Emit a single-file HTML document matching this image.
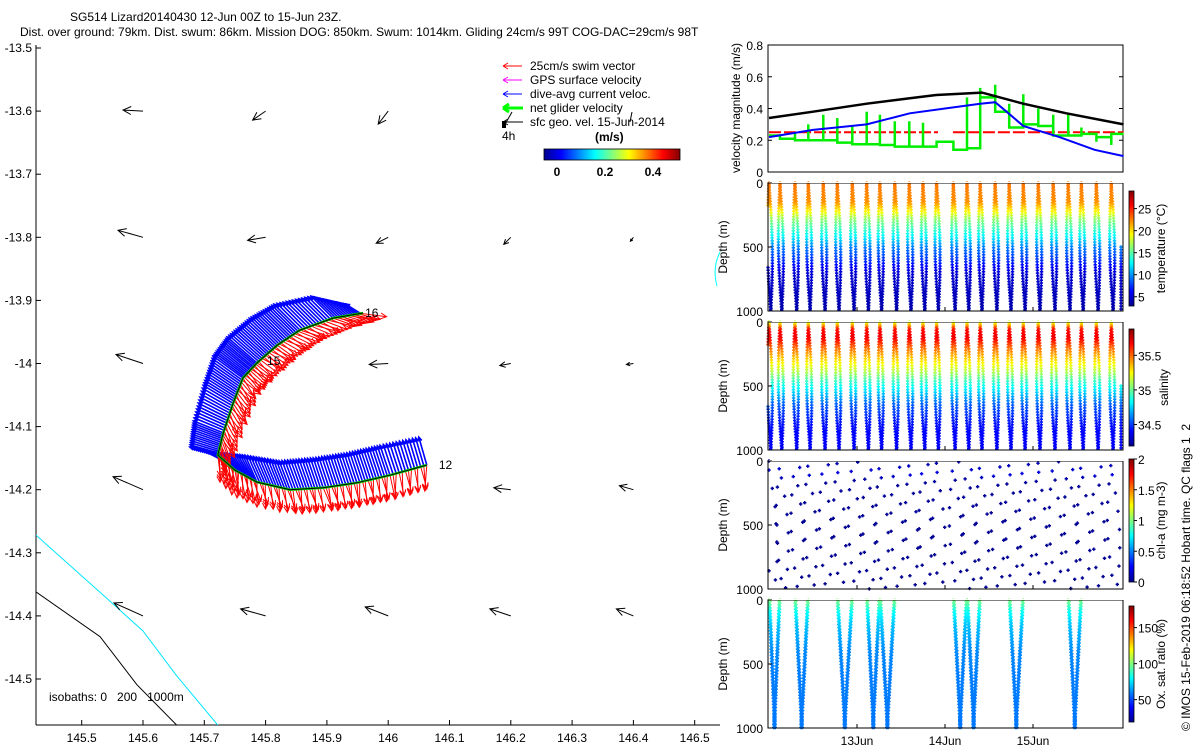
<!DOCTYPE html>
<html><head><meta charset="utf-8">
<style>
html,body{margin:0;padding:0;background:#fff;}
svg{display:block;font-family:"Liberation Sans",sans-serif;}
text{font-size:12px;fill:#000;}
</style></head>
<body>
<svg id="fig" width="1200" height="750" viewBox="0 0 1200 750" xmlns="http://www.w3.org/2000/svg">
<defs>
<linearGradient id="jetv" x1="0" y1="1" x2="0" y2="0">
<stop offset="0" stop-color="#00008f"/><stop offset="0.125" stop-color="#0000ff"/><stop offset="0.375" stop-color="#00ffff"/><stop offset="0.625" stop-color="#ffff00"/><stop offset="0.875" stop-color="#ff0000"/><stop offset="1" stop-color="#800000"/>
</linearGradient>
<linearGradient id="jeth" x1="0" y1="0" x2="1" y2="0">
<stop offset="0" stop-color="#00008f"/><stop offset="0.125" stop-color="#0000ff"/><stop offset="0.375" stop-color="#00ffff"/><stop offset="0.625" stop-color="#ffff00"/><stop offset="0.875" stop-color="#ff0000"/><stop offset="1" stop-color="#800000"/>
</linearGradient>
<clipPath id="mapclip"><rect x="36" y="45" width="684" height="680"/></clipPath>
</defs>
<text x="70" y="21">SG514 Lizard20140430 12-Jun 00Z to 15-Jun 23Z.</text>
<text x="20" y="36">Dist. over ground: 79km. Dist. swum: 86km. Mission DOG: 850km. Swum: 1014km. Gliding 24cm/s 99T COG-DAC=29cm/s 98T</text>
<g id="map"></g>
<g id="legend">
<line x1="503" y1="66" x2="522" y2="66" stroke="#f00"/><path d="M503 66 l5 -3 M503 66 l5 3" stroke="#f00" fill="none"/>
<text x="530" y="70">25cm/s swim vector</text>
<line x1="503" y1="80" x2="522" y2="80" stroke="#f0f"/><path d="M503 80 l5 -3 M503 80 l5 3" stroke="#f0f" fill="none"/>
<text x="530" y="84">GPS surface velocity</text>
<line x1="503" y1="94" x2="522" y2="94" stroke="#00f"/><path d="M503 94 l5 -3 M503 94 l5 3" stroke="#00f" fill="none"/>
<text x="530" y="98">dive-avg current veloc.</text>
<line x1="503" y1="108" x2="523" y2="108" stroke="#0f0" stroke-width="3"/><path d="M503 108 l6 -4 M503 108 l6 4" stroke="#0f0" stroke-width="3" fill="none"/>
<text x="530" y="112">net glider velocity</text>
<line x1="503" y1="122" x2="523" y2="122" stroke="#000"/><path d="M503 122 l5 -3 M503 122 l5 3" stroke="#000" fill="none"/>
<path d="M504 126 l8 -14 M632 112 l-2 10" stroke="#000" fill="none"/><rect x="502" y="121" width="4" height="7" fill="#000"/>
<text x="530" y="126">sfc geo. vel. 15-Jun-2014</text>
<text x="502" y="140">4h</text>
<text x="595" y="141" font-weight="bold">(m/s)</text>
<rect x="544" y="149" width="136" height="11" fill="url(#jeth)" stroke="#000" stroke-width="0.8"/>
<text x="557" y="176" font-weight="bold" text-anchor="middle">0</text>
<text x="605" y="176" font-weight="bold" text-anchor="middle">0.2</text>
<text x="653" y="176" font-weight="bold" text-anchor="middle">0.4</text>
</g>
<g id="vel"></g>
<g id="prof"></g>
<path d="M720 252 q-8 16 -3 34" stroke="#0ff" fill="none"/>
<text transform="translate(1190,731) rotate(-90)" style="white-space:pre">© IMOS 15-Feb-2019 06:18:52 Hobart time. QC flags 1  2</text>
</svg>
<script>
// ---------- map data ----------
const lonTicks=[145.5,145.6,145.7,145.8,145.9,146,146.1,146.2,146.3,146.4,146.5];
const latTicks=[-13.5,-13.6,-13.7,-13.8,-13.9,-14,-14.1,-14.2,-14.3,-14.4,-14.5];
const gridLon=[145.6,145.8,146.0,146.2,146.4];
const gridLat=[-13.6,-13.8,-14.0,-14.2,-14.4,-14.6];
const geoU=[[-0.20,-0.13,-0.10,0,0],[-0.25,-0.18,-0.12,-0.07,-0.03],[-0.27,0,-0.19,-0.11,-0.07],[-0.30,0,0,-0.17,-0.14],[-0.29,-0.25,-0.23,-0.21,-0.17],[-0.25,-0.25,0,0,0]];
const geoV=[[0.01,-0.09,-0.13,0,0],[0.07,-0.03,-0.06,-0.07,-0.04],[0.09,0,-0.01,-0.02,-0.01],[0.13,0,0,0.02,0.04],[0.13,0.07,0.09,0.07,0.07],[0.13,0.12,0,0,0]];
const trackLon=[146.063,146.003,145.949,145.894,145.840,145.786,145.750,145.722,145.731,145.747,145.763,145.786,145.819,145.856,145.910,145.959];
const trackLat=[-14.161,-14.177,-14.189,-14.197,-14.200,-14.188,-14.169,-14.145,-14.110,-14.063,-14.023,-13.999,-13.971,-13.947,-13.928,-13.920];
const dacU=[-0.08,-0.10,-0.10,-0.10,-0.11,-0.12,-0.2,-0.28,-0.30,-0.30,-0.30,-0.30,-0.28,-0.26,-0.22,-0.14];
const dacV=[0.28,0.30,0.30,0.30,0.29,0.27,0.18,0.08,0.12,0.18,0.22,0.26,0.27,0.26,0.22,0.08];
const swimU=[0.02,0.03,0.04,0.05,0.05,0.04,0.02,0.05,0.10,0.12,0.15,0.18,0.20,0.22,0.23,0.22];
const swimV=[-0.24,-0.24,-0.23,-0.23,-0.23,-0.23,-0.24,-0.24,-0.20,-0.18,-0.16,-0.14,-0.12,-0.10,-0.08,-0.05];
const isoCyanLon=[145.4254,145.535,145.6,145.655,145.722];
const isoCyanLat=[-14.272,-14.367,-14.424,-14.495,-14.573];
const isoBlackLon=[145.4254,145.530,145.590,145.655];
const isoBlackLat=[-14.362,-14.433,-14.509,-14.573];
// ---------- velocity panel data ----------
const velTicks=[0,0.2,0.4,0.6,0.8];
const blackT=[0,0.5,1.11,1.6,1.9,2.42,2.89,3.38,4.03];
const blackV=[0.34,0.38,0.43,0.465,0.485,0.5,0.43,0.37,0.3];
const blueT=[0,0.5,1.11,1.6,2.0,2.4,2.57,2.7,2.89,3.3,3.7,4.03];
const blueV=[0.22,0.265,0.3,0.37,0.4,0.43,0.44,0.38,0.29,0.22,0.14,0.1];
const redSegT=[[0,1.92],[2.09,4.03]];
const redV=0.25;
const diveT=[0.0,0.125,0.295,0.447,0.617,0.776,0.947,1.11,1.26,1.43,1.594,1.75,1.905,2.095,2.25,2.40,2.57,2.73,2.89,3.06,3.23,3.40,3.55,3.72,3.89];
const greenSpike=[0.23,0.21,0.25,0.30,0.36,0.34,0.29,0.38,0.36,0.32,0.32,0.31,0.16,0.19,0.47,0.53,0.55,0.43,0.49,0.40,0.36,0.37,0.28,0.19,0.17];
const greenPlateau=[0.23,0.21,0.20,0.20,0.20,0.185,0.175,0.175,0.17,0.16,0.16,0.16,0.19,0.14,0.15,0.47,0.38,0.28,0.30,0.29,0.23,0.23,0.24,0.22,0.24];
const timeTickLabels=["13Jun","14Jun","15Jun"];
const timeTicks=[1,2,3];
// ---------- profile data ----------
const depthTicks=[0,500,1000];
const tempDepth=[0,150,220,280,350,420,500,600,700,1000];
const tempVal=[22.8,22,19.5,16.5,14.5,12.5,9.5,7.5,5,4];
const tempTicks=[5,10,15,20,25];
const salDepth=[0,60,120,200,300,400,450,550,650,800,1000];
const salVal=[35.15,35.65,35.7,35.5,35.3,35.1,34.95,34.75,34.55,34.42,34.38];
const salTicks=[34.5,35,35.5];
const chlDepth=[0,100,150,1000];
const chlVal=[0.06,0.2,0.05,0.03];
const chlTicks=[0,0.5,1,1.5,2];
const oxyDepth=[0,100,200,400,600,1000];
const oxyVal=[100,80,70,61,59,58];
const oxyTicks=[50,100,150];
const oxyPairs=[[0,1],[2,3],[5,6],[7,8],[8,9],[13,14],[14,15],[17,18],[21,22]];

const NS="http://www.w3.org/2000/svg";
function mk(tag,attrs,parent){const e=document.createElementNS(NS,tag);for(const k in attrs)e.setAttribute(k,attrs[k]);parent.appendChild(e);return e;}
function jet(v){v=Math.max(0,Math.min(1,v));const c=x=>Math.round(255*Math.max(0,Math.min(1,x)));return `rgb(${c(1.5-Math.abs(4*v-3))},${c(1.5-Math.abs(4*v-2))},${c(1.5-Math.abs(4*v-1))})`;}
function interp(xs,ys,x){if(x<=xs[0])return ys[0];for(let i=1;i<xs.length;i++){if(x<=xs[i]){const f=(x-xs[i-1])/(xs[i]-xs[i-1]);return ys[i-1]+f*(ys[i]-ys[i-1]);}}return ys[ys.length-1];}

// ---------- map ----------
const mapX=lon=>81.7+(lon-145.5)*613;
const mapY=lat=>48+(-13.5-lat)*631;
const VS=100;
const map=document.getElementById('map');
let e;
e=mk('line',{x1:36,y1:45,x2:36,y2:725,stroke:'#000'},map);


e=mk('line',{x1:36,y1:725,x2:720,y2:725,stroke:'#000'},map);


lonTicks.forEach(l=>{const x=mapX(l);mk('line',{x1:x,y1:725,x2:x,y2:720,stroke:'#000'},map);
 e=mk('text',{x:x,y:742,'text-anchor':'middle'},map);e.textContent=String(l);
 
 });
latTicks.forEach(l=>{const y=mapY(l);mk('line',{x1:36,y1:y,x2:41,y2:y,stroke:'#000'},map);
 e=mk('text',{x:32,y:y+4,'text-anchor':'end'},map);e.textContent=String(l);
 
 });
const mg=mk('g',{'clip-path':'url(#mapclip)'},map);
function poly(lons,lats,col,name){const p=lons.map((l,i)=>mapX(l).toFixed(1)+','+mapY(lats[i]).toFixed(1)).join(' ');
 const el=mk('polyline',{points:p,fill:'none',stroke:col,'stroke-width':1},mg);
 
 }
poly(isoCyanLon,isoCyanLat,'#00e5ff','isobath-200m');
poly(isoBlackLon,isoBlackLat,'#000','isobath-1000m');
function arrow(g,x,y,u,v,col,w,hs){const x2=x+u*VS,y2=y-v*VS;const L=Math.hypot(x2-x,y2-y);if(L<0.5)return null;
 const ux=(x2-x)/L,uy=(y2-y)/L;const h=Math.min(hs,L*0.5);
 const d=`M${x.toFixed(1)} ${y.toFixed(1)}L${x2.toFixed(1)} ${y2.toFixed(1)}M${(x2-ux*h-uy*h*0.5).toFixed(1)} ${(y2-uy*h+ux*h*0.5).toFixed(1)}L${x2.toFixed(1)} ${y2.toFixed(1)}L${(x2-ux*h+uy*h*0.5).toFixed(1)} ${(y2-uy*h-ux*h*0.5).toFixed(1)}`;
 return mk('path',{d:d,stroke:col,'stroke-width':w,fill:'none'},g);}
gridLat.forEach((la,r)=>gridLon.forEach((lo,c)=>{const a=arrow(mg,mapX(lo),mapY(la),geoU[r][c],geoV[r][c],'#000',1,8);
 if(a){a.setAttribute('stroke-width','1');
 
 }}));
const tg=mk('g',{},mg);


const SUB=12;
for(let i=0;i<trackLon.length-1;i++){for(let s=0;s<SUB;s++){const f=s/SUB;
 const x=mapX(trackLon[i]+f*(trackLon[i+1]-trackLon[i])),y=mapY(trackLat[i]+f*(trackLat[i+1]-trackLat[i]));
 const du=dacU[i]+f*(dacU[i+1]-dacU[i]),dv=dacV[i]+f*(dacV[i+1]-dacV[i]);
 const wob=((s*7+i*3)%5-2)*0.02;
 const su=swimU[i]+f*(swimU[i+1]-swimU[i])+wob,sv=swimV[i]+f*(swimV[i+1]-swimV[i])+wob*0.5;
 const b=arrow(tg,x,y,du,dv,'#0000ff',1.6,4);
 if(b){
 }
 const rr=arrow(tg,x,y,su,sv,'#ff0000',1,6);
 if(rr){
 }}}
poly(trackLon,trackLat,'#00dd00','glider-track-green');
const trk=mg.lastChild;trk.setAttribute('stroke-width','2.5');
poly(trackLon,trackLat,'#000','glider-track');
[[0,'12',12,4],[15,'16',2,4],[11,'15',10,2]].forEach(([i,t,dx,dy])=>{e=mk('text',{x:mapX(trackLon[i])+dx,y:mapY(trackLat[i])+dy},mg);e.textContent=t;
 
 });
e=mk('text',{x:49,y:701,style:'white-space:pre'},map);e.textContent='isobaths: 0   200   1000m';



// ---------- velocity panel ----------
const PX0=768,PX1=1123;
const tX=t=>769+88*t;
const vel=document.getElementById('vel');
const vY=v=>172-v*158.75;
e=mk('rect',{x:PX0,y:45,width:PX1-PX0,height:127,fill:'none',stroke:'#000'},vel);


velTicks.forEach(v=>{const y=vY(v);mk('line',{x1:PX0,y1:y,x2:PX0+4,y2:y,stroke:'#000'},vel);mk('line',{x1:PX1,y1:y,x2:PX1-4,y2:y,stroke:'#000'},vel);
 e=mk('text',{x:763,y:y+5,'text-anchor':'end'},vel);e.textContent=String(v);
 
 });
e=mk('text',{transform:'translate(740,108) rotate(-90)','text-anchor':'middle'},vel);e.textContent='velocity magnitude (m/s)';


function vline(ts,vs,col,w,name){const el=mk('polyline',{points:ts.map((t,i)=>tX(t).toFixed(1)+','+vY(vs[i]).toFixed(1)).join(' '),fill:'none',stroke:col,'stroke-width':w},vel);
 
 return el;}
redSegT.forEach(sg=>{const el=vline(sg,[redV,redV],'#ff0000',2,'swim-speed-line');el.setAttribute('stroke-dasharray','12 3');});
let gp=[[0,greenPlateau[0]]];
for(let i=0;i<diveT.length;i++){const prev=i?greenPlateau[i-1]:greenPlateau[0];gp.push([diveT[i],prev],[diveT[i],greenSpike[i]],[diveT[i],greenPlateau[i]]);}
gp.push([4.03,greenPlateau[greenPlateau.length-1]]);
vline(gp.map(p=>p[0]),gp.map(p=>p[1]),'#00ee00',2.5,'net-glider-speed-line');
vline(blackT,blackV,'#000',2.5,'surface-current-line');
vline(blueT,blueV,'#0000ff',2,'dive-avg-current-line');

// ---------- profiles ----------
const prof=document.getElementById('prof');
const panels=[
 {name:'temperature',top:183,bot:311,d:tempDepth,v:tempVal,cmin:2.9,cmax:29,cbT:191,cbB:306,ticks:tempTicks,label:'temperature (°C)',lx:1165},
 {name:'salinity',top:322,bot:450,d:salDepth,v:salVal,cmin:34.19,cmax:35.88,cbT:329,cbB:446,ticks:salTicks,label:'salinity',lx:1168},
 {name:'chlorophyll',top:461,bot:589,d:chlDepth,v:chlVal,cmin:0,cmax:2,cbT:459,cbB:582,ticks:chlTicks,label:'chl-a (mg m-3)',lx:1165},
 {name:'oxygen',top:600,bot:728,d:oxyDepth,v:oxyVal,cmin:19,cmax:180,cbT:606,cbB:722,ticks:oxyTicks,label:'Ox. sat. ratio (%)',lx:1165}
];
panels.forEach((P,pi)=>{
 const g=mk('g',{},prof);
 
 
 const dY=d=>P.top+(d/1000)*(P.bot-P.top);
 const pts=mk('g',{},g);
 
 
 function dot(t,d){const x=tX(t);if(x<PX0||x>PX1||d>1000)return;const c=jet((interp(P.d,P.v,d)-P.cmin)/(P.cmax-P.cmin));
  mk('path',{d:`M${(x-1.7).toFixed(1)} ${dY(d).toFixed(1)}h3.4M${x.toFixed(1)} ${(dY(d)-1.7).toFixed(1)}v3.4`,stroke:c,'stroke-width':1.5},pts);}
 if(pi===3){oxyPairs.forEach(([a,b])=>{const ta=diveT[a],tb=diveT[b],tm=(ta+tb)/2;
  for(let d=0;d<=1000;d+=24){dot(ta+(tm-ta)*d/1000,d);dot(tb-(tb-tm)*d/1000,d);
   dot(ta+(tm-ta)*d/1000+0.01,d+12);dot(tb-(tb-tm)*d/1000-0.01,d+12);}});}
 else if(pi===2){diveT.forEach((t,i)=>{for(let k=0;k<7;k++){const d=((k*143+i*61)%1000);const s=Math.sin(Math.PI*d/1000);
  dot(t+0.03*d/1000-0.06*s,d);dot(t+0.05*d/1000+0.07*s,(d+71)%1000);}});}
 else{diveT.forEach((t,i)=>{for(let d=0;d<=1000;d+=22){const s=Math.sin(Math.PI*d/1000);
  dot(t+0.02*d/1000-0.028*s,d);dot(t+0.02*d/1000+0.028*s,d+11);}});
  for(let d=500;d<=1000;d+=22){dot(4.0,d);}}
 e=mk('rect',{x:PX0,y:P.top,width:PX1-PX0,height:P.bot-P.top,fill:'none',stroke:'#000'},g);
 
 
 mk('rect',{x:PX0+1,y:P.top-1,width:PX1-PX0,height:1,fill:'#fff'},g);
 depthTicks.forEach(d=>{const y=dY(d);mk('line',{x1:PX0,y1:y,x2:PX0+4,y2:y,stroke:'#000'},g);
  e=mk('text',{x:763,y:y+5,'text-anchor':'end'},g);e.textContent=String(d);
  
  });
 timeTicks.forEach(t=>{mk('line',{x1:tX(t),y1:P.bot,x2:tX(t),y2:P.bot-4,stroke:'#000'},g);});
 e=mk('text',{transform:`translate(727,${(P.top+P.bot)/2}) rotate(-90)`,'text-anchor':'middle'},g);e.textContent='Depth (m)';
 
 
 e=mk('rect',{x:1129,y:P.cbT,width:5,height:P.cbB-P.cbT,fill:'url(#jetv)',stroke:'#000','stroke-width':0.8},g);
 
 
 P.ticks.forEach(v=>{const y=P.cbB-(v-P.cmin)/(P.cmax-P.cmin)*(P.cbB-P.cbT);mk('line',{x1:1134,y1:y,x2:1137,y2:y,stroke:'#000'},g);
  e=mk('text',{x:1138,y:y+5},g);e.textContent=String(v);
  
  });
 e=mk('text',{transform:`translate(${P.lx},${(P.cbT+P.cbB)/2}) rotate(-90)`,'text-anchor':'middle'},g);e.textContent=P.label;
 
 
});
timeTicks.forEach((t,i)=>{e=mk('text',{x:tX(t),y:745,'text-anchor':'middle'},prof);e.textContent=timeTickLabels[i];
 
 });
</script>
</body></html>
